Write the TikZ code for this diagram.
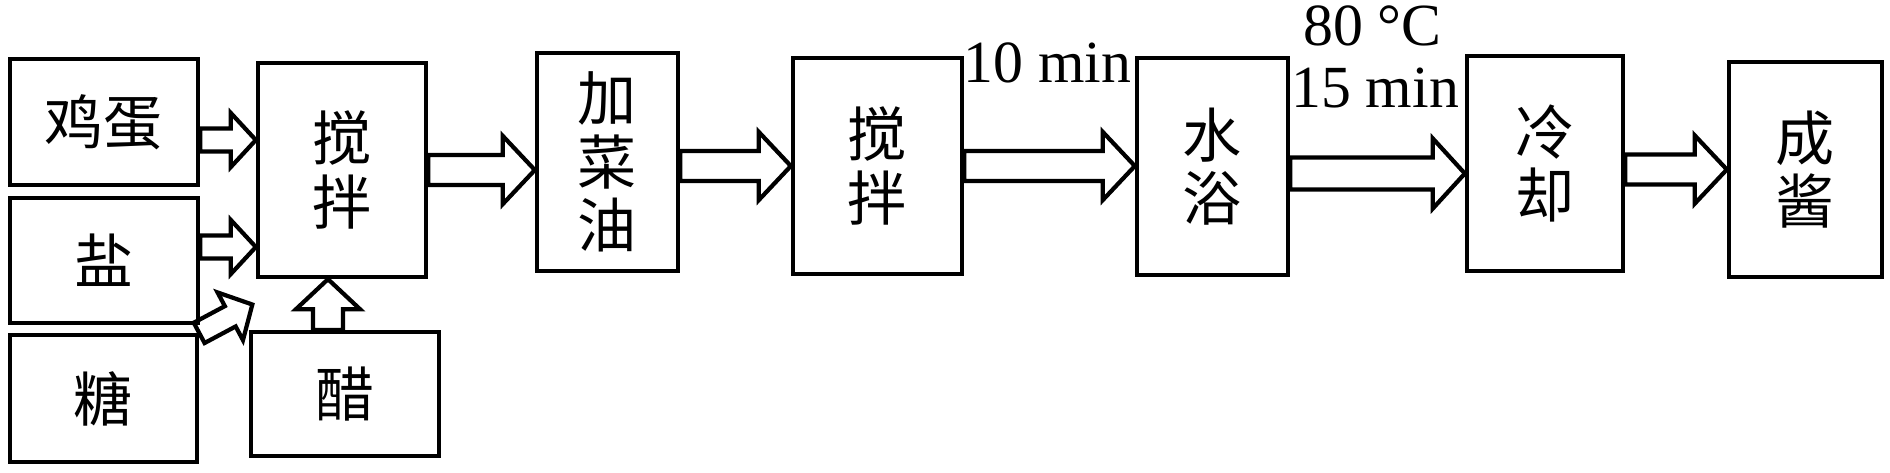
\documentclass[tikz,border=0pt]{standalone}
\usepackage{fontspec}
\setmainfont{Liberation Serif}
\newfontfamily\cjk{Noto Sans CJK SC}
\usetikzlibrary{calc}

\newcommand\blockarrow[5]{%
	\path (#1) coordinate (ba-s) (#2) coordinate (ba-t);
	\coordinate (ba-b) at ($(ba-t)!#5!(ba-s)$);
	\draw[arrowline] ($(ba-s)!#3!90:(ba-t)$) -- ($(ba-b)!#3!-90:(ba-s)$) -- ($(ba-b)!#4!-90:(ba-s)$) -- (ba-t)
		-- ($(ba-b)!#4!90:(ba-s)$) -- ($(ba-b)!#3!90:(ba-s)$) -- ($(ba-s)!#3!-90:(ba-t)$) -- cycle;
}

\begin{document}
\begin{tikzpicture}[x=0.01cm,y=-0.01cm]
	\useasboundingbox (0,0) rectangle (1890,472);

	\begin{scope}[every node/.style={rectangle,draw,line width=1.2pt,inner sep=0pt,align=center,
		font=\cjk\fontsize{16.8}{18}\selectfont}]
		\node[minimum width=1.88cm,minimum height=1.26cm] (egg) at (104,122) {鸡蛋};
		\node[minimum width=1.88cm,minimum height=1.25cm] (salt) at (104,260.5) {盐};
		\node[minimum width=1.87cm,minimum height=1.27cm] (sugar) at (103.5,398.5) {糖};
		\node[minimum width=1.68cm,minimum height=2.14cm] (mix1) at (342,170) {搅\\拌};
		\node[minimum width=1.88cm,minimum height=1.24cm] (vinegar) at (345,394) {醋};
		\node[minimum width=1.41cm,minimum height=2.18cm] (oil) at (607.5,162) {加\\菜\\油};
		\node[minimum width=1.69cm,minimum height=2.16cm] (mix2) at (877.5,166) {搅\\拌};
		\node[minimum width=1.51cm,minimum height=2.17cm] (bath) at (1212.5,166.5) {水\\浴};
		\node[minimum width=1.56cm,minimum height=2.15cm] (cool) at (1545,163.5) {冷\\却};
		\node[minimum width=1.53cm,minimum height=2.15cm] (sauce) at (1805.5,169.5) {成\\酱};
	\end{scope}

	\begin{scope}[every node/.style={anchor=base,inner sep=0pt,font=\fontsize{17}{20}\selectfont}]
		\node (t10) at (1047.5,82) {10 min};
		\node (t80) at (1372.5,45) {80 °C};
		\node (t15) at (1375,107) {15 min};
	\end{scope}

	\coordinate (sugarin) at ($(mix1.south west)!0.5!(vinegar.north west)$);

	\begin{scope}[arrowline/.style={draw=black,line width=1.2pt,line join=miter}]
		\blockarrow{[yshift=-0.18cm]egg.east}{[yshift=-0.18cm]egg.east -| mix1.west}{0.115cm}{0.27cm}{0.25cm}
		\blockarrow{[yshift=0.135cm]salt.east}{[yshift=0.135cm]salt.east -| mix1.west}{0.115cm}{0.27cm}{0.25cm}
		\blockarrow{sugar.north east}{sugarin}{0.115cm}{0.27cm}{0.25cm}
		\blockarrow{[xshift=-0.17cm]vinegar.north}{[xshift=-0.17cm]vinegar.north |- mix1.south}{0.15cm}{0.32cm}{0.3cm}

		\blockarrow{mix1.east}{mix1.east -| oil.west}{0.15cm}{0.34cm}{0.32cm}
		\blockarrow{mix2.west -| oil.east}{mix2.west}{0.15cm}{0.34cm}{0.32cm}
		\blockarrow{mix2.east}{mix2.east -| bath.west}{0.15cm}{0.34cm}{0.32cm}
		\blockarrow{[yshift=-0.07cm]bath.east}{[yshift=-0.07cm]bath.east -| cool.west}{0.16cm}{0.35cm}{0.32cm}
		\blockarrow{sauce.west -| cool.east}{sauce.west}{0.15cm}{0.34cm}{0.32cm}
	\end{scope}
\end{tikzpicture}
\end{document}
